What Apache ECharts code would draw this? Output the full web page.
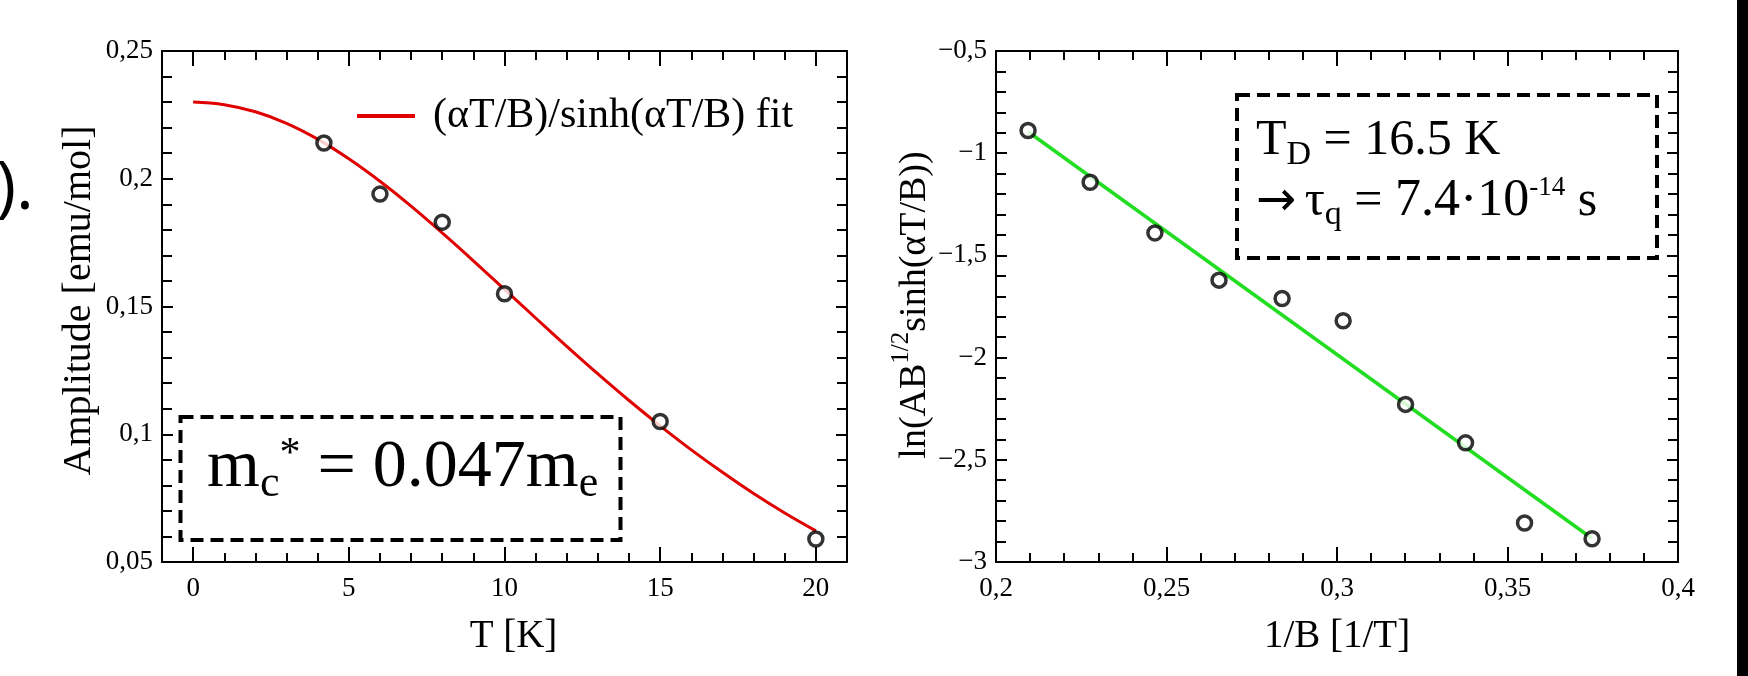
<!DOCTYPE html>
<html><head><meta charset="utf-8">
<script src="https://cdn.jsdelivr.net/npm/echarts@6/dist/echarts.min.js"></script>
<style>html,body{margin:0;padding:0;background:#fff}#c{width:1748px;height:676px}</style>
</head><body><div id="c"></div><script>
// ---------- data ----------
const fitName = '(αT/B)/sinh(αT/B) fit';
const ampT   = [4.2, 6, 8, 10, 15, 20];
const ampVal = [0.214, 0.194, 0.183, 0.155, 0.105, 0.059];
const fitT   = [0, 1, 2, 3, 4, 5, 6, 7, 8, 9, 10, 11, 12, 13, 14, 15, 16, 17, 18, 19, 20];
const fitVal = [0.2300, 0.2290, 0.2262, 0.2217, 0.2155, 0.2078, 0.1990, 0.1893, 0.1788, 0.1679, 0.1567,
                0.1455, 0.1344, 0.1236, 0.1132, 0.1033, 0.0939, 0.0851, 0.0768, 0.0692, 0.0622];
const invB   = [0.2094, 0.2276, 0.2466, 0.2654, 0.2839, 0.3018, 0.3201, 0.3377, 0.3550, 0.3748];
const lnVal  = [-0.889, -1.142, -1.390, -1.621, -1.711, -1.820, -2.229, -2.417, -2.809, -2.886];
const lineX  = [0.2094, 0.3748];
const lineY  = [-0.895, -2.885];

const leftXTicks  = [0, 5, 10, 15, 20];
const leftXLabels = ['0', '5', '10', '15', '20'];
const leftYTicks  = [0.05, 0.1, 0.15, 0.2, 0.25];
const leftYLabels = ['0,05', '0,1', '0,15', '0,2', '0,25'];
const rightXTicks  = [0.2, 0.25, 0.3, 0.35, 0.4];
const rightXLabels = ['0,2', '0,25', '0,3', '0,35', '0,4'];
const rightYTicks  = [-3, -2.5, -2, -1.5, -1, -0.5];
const rightYLabels = ['−3', '−2,5', '−2', '−1,5', '−1', '−0,5'];

// minor tick positions
const leftXMinor = []; for (let i = 1; i < 20; i++) if (i % 5) leftXMinor.push(i);
const leftYMinor = []; for (let k = 6; k < 25; k++) if (k % 5) leftYMinor.push(k / 100);
const rightXMinor = []; for (let k = 21; k < 40; k++) if (k % 5) rightXMinor.push(k / 100);
const rightYMinor = []; for (let k = -29; k < -5; k++) if (k % 5) rightYMinor.push(k / 10);

// ---------- helpers ----------
const SERIF = '"Liberation Serif", "Times New Roman", serif';
const ARROWF = '"DejaVu Sans", sans-serif';
function axis(grid, pos, min, max, ticks, len, labels, showLine, extra) {
  const a = {
    type: 'value', gridIndex: grid, position: pos, min: min, max: max,
    axisLine: { show: showLine, onZero: false, lineStyle: { color: '#000', width: 2 } },
    axisTick: { show: true, inside: true, length: len, customValues: ticks, lineStyle: { color: '#000', width: 2 } },
    axisLabel: labels ? {
      show: true, customValues: ticks, color: '#000', fontFamily: SERIF, fontSize: 27,
      margin: (pos === 'bottom' || pos === 'top') ? 13 : 9,
      formatter: function (v) {
        let best = 0; for (let i = 0; i < ticks.length; i++) if (Math.abs(ticks[i] - v) < Math.abs(ticks[best] - v)) best = i;
        return labels[best];
      }
    } : { show: false },
    splitLine: { show: false }, minorTick: { show: false }, minorSplitLine: { show: false }
  };
  return Object.assign(a, extra || {});
}
const nameStyle = { color: '#000', fontFamily: SERIF, fontSize: 39 };

const mctx = document.createElement('canvas').getContext('2d');
function tw(t, size, fam) { mctx.font = size + 'px ' + (fam || SERIF); return mctx.measureText(t).width; }
function txt(s, x, base, size, fam) {
  return {
    type: 'text', x: x, y: base - 0.34 * size, z: 100,
    style: { text: s, fontSize: size, fontFamily: fam || SERIF, fill: '#000', align: 'left', verticalAlign: 'middle' }
  };
}
// lay out a line of pieces one after another: [text, size, baselineShift, fontFamily]
function line(parts, x0, base) {
  const out = []; let x = x0;
  parts.forEach(p => {
    if (p[0] !== ' ') out.push(txt(p[0], x, base + (p[2] || 0), p[1], p[3]));
    x += tw(p[0], p[1], p[3]);
  });
  return out;
}

// right y-axis name (with superscript), built along the rotated baseline
const rParts = [['ln(AB', 38, 0], ['1/2', 25, -14], ['sinh(αT/B))', 38, 0]];
let rLen = 0; rParts.forEach(p => rLen += tw(p[0], p[1]));
const rChildren = []; let cx = -rLen / 2;
rParts.forEach(p => {
  rChildren.push({ type: 'text', x: cx, y: p[2], style: { text: p[0], fontSize: p[1], fontFamily: SERIF, fill: '#000', align: 'left', verticalAlign: 'middle' } });
  cx += tw(p[0], p[1]);
});

const boxTexts = [].concat(
  line([['m', 68], ['c', 44, 8], ['*', 42, -22], [' ', 68], ['=', 68], [' ', 68], ['0.047', 68], ['m', 68], ['e', 44, 8]], 207, 491),
  line([['T', 50], ['D', 34, 9], [' ', 50], ['=', 50], [' ', 50], ['16.5 K', 50]], 1256, 158),
  line([['→', 48, 0, ARROWF], [' ', 34], ['τ', 50], ['q', 34, 8], [' ', 50], ['=', 50], [' ', 50], ['7.4·10', 52], ['-14', 27, -22], [' ', 50], ['s', 50]], 1256, 219)
);

const chart = echarts.init(document.getElementById('c'), null, { renderer: 'canvas' });
chart.setOption({
  backgroundColor: '#fff',
  animation: false,
  grid: [
    { left: 162, top: 51, width: 685, height: 511, containLabel: false },
    { left: 996, top: 51, width: 682, height: 511, containLabel: false }
  ],
  xAxis: [
    axis(0, 'bottom', -1, 21, leftXTicks, 15, leftXLabels, true,
      { name: 'T [K]', nameLocation: 'middle', nameGap: 55, nameTextStyle: Object.assign({ padding: [0, 0, 0, 18] }, nameStyle) }),
    axis(0, 'bottom', -1, 21, leftXMinor, 9, null, false),
    axis(0, 'top', -1, 21, leftXTicks, 15, null, true),
    axis(0, 'top', -1, 21, leftXMinor, 9, null, false),
    axis(1, 'bottom', 0.2, 0.4, rightXTicks, 15, rightXLabels, true,
      { name: '1/B [1/T]', nameLocation: 'middle', nameGap: 55, nameTextStyle: nameStyle }),
    axis(1, 'bottom', 0.2, 0.4, rightXMinor, 9, null, false),
    axis(1, 'top', 0.2, 0.4, rightXTicks, 15, null, true),
    axis(1, 'top', 0.2, 0.4, rightXMinor, 9, null, false)
  ],
  yAxis: [
    axis(0, 'left', 0.05, 0.25, leftYTicks, 11, leftYLabels, true,
      { name: 'Amplitude [emu/mol]', nameLocation: 'middle', nameGap: 63, nameRotate: 90,
        nameTextStyle: Object.assign({ padding: [0, 0, 0, 12] }, nameStyle, { fontSize: 40 }) }),
    axis(0, 'left', 0.05, 0.25, leftYMinor, 10, null, false),
    axis(0, 'right', 0.05, 0.25, leftYTicks, 11, null, true),
    axis(0, 'right', 0.05, 0.25, leftYMinor, 10, null, false),
    axis(1, 'left', -3, -0.5, rightYTicks, 11, rightYLabels, true),
    axis(1, 'left', -3, -0.5, rightYMinor, 10, null, false),
    axis(1, 'right', -3, -0.5, rightYTicks, 11, null, true),
    axis(1, 'right', -3, -0.5, rightYMinor, 10, null, false)
  ],
  legend: {
    data: [fitName], left: 357, top: 95, padding: 0, icon: 'rect', itemWidth: 58, itemHeight: 4,
    selectedMode: false,
    textStyle: { color: '#000', fontFamily: SERIF, fontSize: 42, padding: [0, 0, 0, 13] }
  },
  series: [
    {
      name: fitName, type: 'line', xAxisIndex: 0, yAxisIndex: 0, smooth: 0.4, showSymbol: false,
      color: '#e00000', lineStyle: { color: '#e00000', width: 3 }, z: 2,
      data: fitT.map((t, i) => [t, fitVal[i]])
    },
    {
      name: 'amp', type: 'scatter', xAxisIndex: 0, yAxisIndex: 0, symbol: 'circle', symbolSize: 14,
      itemStyle: { color: '#fff', borderColor: '#000', borderWidth: 3.5 }, z: 3,
      data: ampT.map((t, i) => [t, ampVal[i]])
    },
    {
      name: 'lin', type: 'line', xAxisIndex: 4, yAxisIndex: 4, showSymbol: false,
      lineStyle: { color: '#22dd22', width: 3.5 }, z: 2,
      data: lineX.map((x, i) => [x, lineY[i]])
    },
    {
      name: 'ln', type: 'scatter', xAxisIndex: 4, yAxisIndex: 4, symbol: 'circle', symbolSize: 14,
      itemStyle: { color: '#fff', borderColor: '#000', borderWidth: 3.5 }, z: 3,
      data: invB.map((x, i) => [x, lnVal[i]])
    }
  ],
  graphic: [
    { type: 'rect', shape: { x: 1737, y: 0, width: 11, height: 676 }, style: { fill: '#000' } },
    { type: 'text', x: -4, y: 190, style: { text: ').', fontSize: 68, fontFamily: '"Open Sans", sans-serif', fill: '#000', align: 'left', verticalAlign: 'middle' } },
    { type: 'rect', z: 100, shape: { x: 180.5, y: 417, width: 440, height: 123 },
      style: { fill: 'rgba(0,0,0,0)', stroke: '#000', lineWidth: 4, lineDash: [13, 7] } },
    { type: 'rect', z: 100, shape: { x: 1237, y: 95, width: 420, height: 163 },
      style: { fill: 'rgba(0,0,0,0)', stroke: '#000', lineWidth: 4, lineDash: [13, 7] } },
    { type: 'group', x: 915, y: 305, rotation: Math.PI / 2, children: rChildren }
  ].concat(boxTexts)
});
</script></body></html>
